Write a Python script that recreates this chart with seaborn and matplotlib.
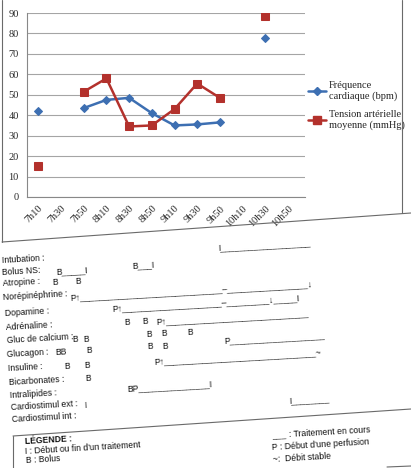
import numpy as np
import pandas as pd
import seaborn as sns
import matplotlib
matplotlib.use("Agg")
import matplotlib.pyplot as plt
from matplotlib import font_manager
from matplotlib.lines import Line2D

heures = ["7h10", "7h30", "7h50", "8h10", "8h30", "8h50",
          "9h10", "9h30", "9h50", "10h10", "10h30", "10h50"]
freq_cardiaque = [42, np.nan, 43.5, 47.5, 48.5, 41, 35, 35.5, 36.5, np.nan, 78, np.nan]
tension_moyenne = [15, np.nan, 51.5, 58, 34.5, 35, 43, 55.5, 48.5, np.nan, 88.5, np.nan]
series = ["Fréquence\ncardiaque (bpm)", "Tension artérielle\nmoyenne (mmHg)"]
couleurs = ["#3d6fb2", "#b3312c"]
graduations_y = list(range(0, 91, 10))

# lignes de traitement sous le graphique
medicaments = ["Intubation :", "Bolus NS:", "Atropine :", "Norépinéphrine :", "Dopamine :",
               "Adrénaline :", "Gluc de calcium :", "Glucagon :", "Insuline :",
               "Bicarbonates :", "Intralipides :", "Cardiostimul ext :", "Cardiostimul int :"]
legende_gauche = ["LÉGENDE :", "I : Début ou fin d'un traitement", "B : Bolus"]
legende_droite = [": Traitement en cours", "P : Début d'une perfusion", "~:  Débit stable"]

W, H = 411, 468


def fx(x):
    return x / W


def fy(y):
    return 1 - y / H


sns.set_style("white")
plt.rcParams['font.family'] = ['Liberation Serif', 'DejaVu Serif']

# police etroite pour le texte du bas si disponible
dispo = {f.name for f in font_manager.fontManager.ttflist}
if "Liberation Sans Narrow" in dispo:
    sans = ["Liberation Sans Narrow", "DejaVu Sans"]
    taille = 7.0
    larg_us = taille * 100 / 72 * 0.456
else:
    sans = ["Liberation Sans", "DejaVu Sans"]
    taille = 6.2
    larg_us = taille * 100 / 72 * 0.556


def u(npx):
    return "_" * max(1, int(round(npx / larg_us)))


fig = plt.figure(figsize=(W / 100, H / 100), dpi=100)
ax = fig.add_axes([fx(27), fy(197), 278 / W, 184 / H])

# tableau long, avec un numero de segment pour couper les lignes aux trous
rows = []
for nom, vals in zip(series, [freq_cardiaque, tension_moyenne]):
    seg = 0
    prev_ok = False
    for i, v in enumerate(vals):
        if np.isnan(v):
            prev_ok = False
            continue
        if not prev_ok:
            seg += 1
        rows.append({"pos": i, "valeur": v, "serie": nom, "segment": seg})
        prev_ok = True
df = pd.DataFrame(rows)

sns.lineplot(data=df, x="pos", y="valeur", hue="serie", style="serie", units="segment",
             estimator=None, markers={series[0]: "D", series[1]: "s"}, dashes=False,
             palette=dict(zip(series, couleurs)), linewidth=1.8, legend=False, ax=ax)
for ln in ax.lines:
    ln.set_markeredgecolor(ln.get_color())
    ln.set_markersize(4.5 if ln.get_marker() == "D" else 5.5)

ax.set_ylim(0, 90)
ax.set_yticks(graduations_y)
ax.set_xlim(-0.25, 11.75)
ax.set_xticks(range(len(heures)))
ax.set_xticklabels(heures, rotation=45, ha="right", rotation_mode="anchor")
ax.set_xticks(np.arange(-0.5, len(heures), 1), minor=True)
ax.tick_params(axis="x", which="major", length=0, pad=5, labelsize=7.5, colors="#2a2a2a")
ax.tick_params(axis="x", which="minor", length=3, color="#888888", direction="out")
ax.tick_params(axis="y", length=3, color="#888888", labelsize=7.5, labelcolor="#2a2a2a", pad=3)
ax.grid(axis="y", color="#a5a5a5", linewidth=0.8)
ax.set_axisbelow(True)
ax.set_xlabel("")
ax.set_ylabel("")
for s in ["top", "right"]:
    ax.spines[s].set_visible(False)
for s in ["left", "bottom"]:
    ax.spines[s].set_color("#888888")
    ax.spines[s].set_linewidth(0.8)

poignees = [Line2D([0], [0], color=couleurs[0], marker="D", markersize=4.5, lw=1.8),
            Line2D([0], [0], color=couleurs[1], marker="s", markersize=5.5, lw=1.8)]
ax.legend(poignees, series, loc="upper left", bbox_to_anchor=(fx(299), fy(72)),
          bbox_transform=fig.transFigure, frameon=False, fontsize=7.5,
          handlelength=1.7, handletextpad=0.3, labelspacing=0.8)


def trait(x0, y0, x1, y1, lw=0.8):
    fig.add_artist(Line2D([fx(x0), fx(x1)], [fy(y0), fy(y1)], transform=fig.transFigure,
                          color="#6a6a6a", lw=lw))


# cadre du graphique
trait(2, 0, 2, 242)
trait(2, 242, 411, 213)
trait(402, 0, 402, 213)

ROT = 3.3


def put(s, x, y, weight="normal", size=None):
    fig.text(fx(x), fy(y), s, fontsize=size or taille, family=sans, weight=weight,
             rotation=ROT, rotation_mode="anchor", ha="left", va="center", color="#111111")


# noms des traitements
lab_x = [2, 2, 3, 3, 5, 6, 7, 7, 8, 9, 10, 11, 12]
lab_y = [261, 273, 284, 298, 314, 328, 341, 355, 369, 383, 396, 408, 420]
for nom, x, y in zip(medicaments, lab_x, lab_y):
    put(nom, x, y)

# annotations
put("I" + u(92), 218, 248)
put("B" + u(26) + "I", 56, 272)
put("B" + u(14) + "I", 132, 266)
put("B", 52, 283)
put("B", 75, 282)
put("P↑" + u(142) + "–" + u(80) + "↓", 70, 298)
put("P↑" + u(100) + "–" + u(43) + "↓" + u(23) + "I", 112, 309)
put("B", 124, 323)
put("B", 142, 322)
put("P↑" + u(145), 156, 322)
put("B", 72, 340)
put("B", 83, 340)
put("B", 146, 335)
put("B", 161, 334)
put("B", 187, 333)
put("BB", 55, 353)
put("B", 86, 351)
put("B", 147, 347)
put("B", 162, 347)
put("P" + u(95), 224, 341)
put("B", 64, 367)
put("B", 84, 366)
put("P↑" + u(153) + "~", 154, 362)
put("B", 85, 379)
put("BP" + u(70) + "I", 127, 389)
put("I", 84, 406)
put("I" + u(40), 289, 401)

# legende du bas
trait(13, 436, 411, 409)
trait(13, 436, 13, 468)
trait(387, 467, 411, 466)
put(legende_gauche[0], 25, 442, weight="bold")
put(legende_gauche[1], 25, 452)
put(legende_gauche[2], 26, 461)
put(u(16), 272, 436)
put(legende_droite[0], 289, 435)
put(legende_droite[1], 272, 448)
put(legende_droite[2], 273, 460)

fig.savefig("out.png", dpi=100)
